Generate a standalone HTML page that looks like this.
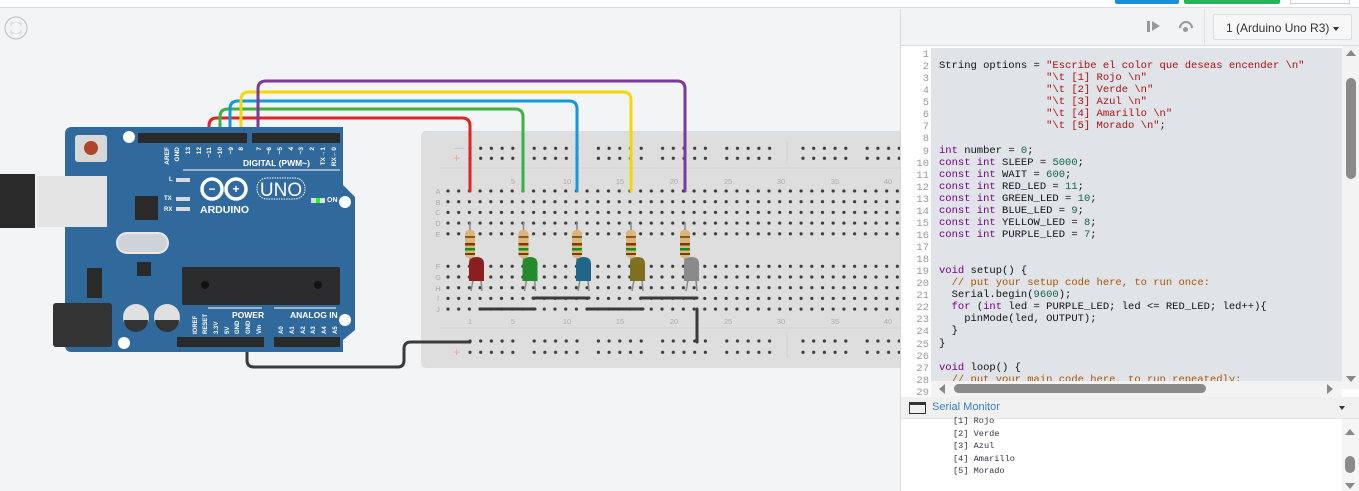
<!DOCTYPE html>
<html><head><meta charset="utf-8"><style>
*{margin:0;padding:0;box-sizing:border-box}
body{width:1359px;height:491px;overflow:hidden;background:#f3f4f6;font-family:"Liberation Sans",sans-serif;position:relative}
#panel{position:absolute;left:900px;top:9px;width:459px;height:482px;background:#fff;border-left:1px solid #d8d8d8}
#hdr{position:absolute;left:0;top:0;width:459px;height:37px;background:#f2f3f5;border-bottom:1px solid #dcdcdc}
#dd{position:absolute;left:312px;top:5px;width:139px;height:26px;background:#f7f7f8;border:1px solid #dcdcdc;border-radius:2px;font-size:12px;color:#333;padding:6px 0 0 12px}
#gut{position:absolute;left:1px;top:37px;width:29px;height:343px;background:#fff}
#code{position:absolute;left:30px;top:39px;width:411px;height:333px;background:#e0e3e8;overflow:hidden}
pre{font-family:"Liberation Mono",monospace;font-size:10.5px;line-height:12.07px;color:#111}
#gut pre{color:#999;text-align:right;padding-right:2px;position:absolute;top:3px;right:0}
#code pre{position:absolute;left:8px;top:0}
.k{color:#708}.s{color:#a11}.n{color:#164}.c{color:#a50}
#vs{position:absolute;left:441px;top:37px;width:18px;height:343px;background:#f3f3f3}
#hs{position:absolute;left:30px;top:372px;width:411px;height:16px;background:#f3f3f3}
#sm{position:absolute;left:0;top:388px;width:459px;height:22px;background:#f0f0f1;border-bottom:1px solid #e4e4e4}
#out{position:absolute;left:52px;top:406px;font-family:"Liberation Mono",monospace;font-size:8.6px;line-height:12.6px;color:#334}
</style></head><body>
<div style="position:absolute;left:0;top:0;width:1359px;height:8px;background:#fff;border-bottom:1px solid #ddd"></div>
<div style="position:absolute;left:1115px;top:0;width:64px;height:4px;background:#1a8fd8;border-radius:0 0 2px 2px"></div>
<div style="position:absolute;left:1184px;top:0;width:96px;height:4px;background:#27b35c;border-radius:0 0 2px 2px"></div>
<div style="position:absolute;left:1290px;top:0;width:60px;height:4px;border:1px solid #ccc;border-top:none"></div>
<svg width="900" height="491" style="position:absolute;left:0;top:0">
<defs>
<pattern id="h" x="442.65" y="185.65" width="10.7" height="10.7" patternUnits="userSpaceOnUse"><circle cx="5.35" cy="5.35" r="1.6" fill="#3a3a3a"/></pattern>
<pattern id="h2" x="442.65" y="260.95" width="10.7" height="10.7" patternUnits="userSpaceOnUse"><circle cx="5.35" cy="5.35" r="1.6" fill="#3a3a3a"/></pattern>
<pattern id="r1" x="464.65" y="143.3" width="64.2" height="10" patternUnits="userSpaceOnUse"><g fill="#3a3a3a"><circle cx="5.35" cy="5" r="1.6"/><circle cx="16.05" cy="5" r="1.6"/><circle cx="26.75" cy="5" r="1.6"/><circle cx="37.45" cy="5" r="1.6"/><circle cx="48.15" cy="5" r="1.6"/></g></pattern>
<pattern id="r2" x="797.65" y="143.3" width="64.2" height="10" patternUnits="userSpaceOnUse"><g fill="#3a3a3a"><circle cx="5.35" cy="5" r="1.6"/><circle cx="16.05" cy="5" r="1.6"/><circle cx="26.75" cy="5" r="1.6"/><circle cx="37.45" cy="5" r="1.6"/><circle cx="48.15" cy="5" r="1.6"/></g></pattern>
<pattern id="r3" x="464.65" y="335.6" width="64.2" height="11.3" patternUnits="userSpaceOnUse"><g fill="#3a3a3a"><circle cx="5.35" cy="5.4" r="1.6"/><circle cx="16.05" cy="5.4" r="1.6"/><circle cx="26.75" cy="5.4" r="1.6"/><circle cx="37.45" cy="5.4" r="1.6"/><circle cx="48.15" cy="5.4" r="1.6"/></g></pattern>
<pattern id="r4" x="797.65" y="335.6" width="64.2" height="11.3" patternUnits="userSpaceOnUse"><g fill="#3a3a3a"><circle cx="5.35" cy="5.4" r="1.6"/><circle cx="16.05" cy="5.4" r="1.6"/><circle cx="26.75" cy="5.4" r="1.6"/><circle cx="37.45" cy="5.4" r="1.6"/><circle cx="48.15" cy="5.4" r="1.6"/></g></pattern>
</defs>
<circle cx="16" cy="28" r="11" fill="none" stroke="#bbb" stroke-width="1"/>
<path d="M11 26v-3h3M18 23h3v3M21 30v3h-3M14 33h-3v-3" fill="none" stroke="#ccc" stroke-width="1"/>
<!-- breadboard -->
<rect x="421" y="131" width="500" height="237" rx="5" fill="#dedede"/>
<line x1="440" y1="168" x2="900" y2="168" stroke="#d2d2d2"/>
<line x1="440" y1="328" x2="900" y2="328" stroke="#d2d2d2"/>
<line x1="787" y1="142" x2="787" y2="164" stroke="#d2d2d2"/>
<line x1="787" y1="332" x2="787" y2="358" stroke="#d2d2d2"/>
<text x="454" y="151" font-size="10" fill="#a8c4e0">—</text>
<text x="453" y="162" font-size="12" fill="#f0a0a0">+</text>
<text x="453" y="356" font-size="12" fill="#f0a0a0">+</text>
<rect x="464" y="143" width="311" height="20" fill="url(#r1)"/>
<rect x="797" y="143" width="103" height="20" fill="url(#r2)"/>
<rect x="464" y="335" width="311" height="23" fill="url(#r3)"/>
<rect x="797" y="335" width="103" height="23" fill="url(#r4)"/>
<rect x="443" y="186" width="457" height="53" fill="url(#h)"/>
<rect x="443" y="261" width="457" height="53" fill="url(#h2)"/>
<g font-size="7.5" fill="#aaa" text-anchor="middle">
<text x="438" y="194">A</text><text x="438" y="205">B</text><text x="438" y="215">C</text><text x="438" y="226">D</text><text x="438" y="237">E</text>
<text x="438" y="269">F</text><text x="438" y="280">G</text><text x="438" y="291">H</text><text x="438" y="301">I</text><text x="438" y="312">J</text>
<text x="513" y="184">5</text><text x="567" y="184">10</text><text x="620" y="184">15</text><text x="674" y="184">20</text><text x="728" y="184">25</text><text x="781" y="184">30</text><text x="835" y="184">35</text><text x="888" y="184">40</text>
<text x="470" y="324">1</text><text x="513" y="324">5</text><text x="567" y="324">10</text><text x="620" y="324">15</text><text x="674" y="324">20</text><text x="728" y="324">25</text><text x="781" y="324">30</text><text x="835" y="324">35</text><text x="888" y="324">40</text>
</g>
<!-- black jumpers -->
<g stroke="#3a3a3a" stroke-width="3" stroke-linecap="round" fill="none">
<line x1="533" y1="298" x2="589" y2="298"/><line x1="641" y1="298" x2="697" y2="298"/>
<line x1="480" y1="309" x2="535" y2="309"/><line x1="587" y1="309" x2="643" y2="309"/>
<line x1="697" y1="309" x2="697" y2="342"/>
<path d="M247 343 V360 Q247 367 254 367 H398 Q404 367 404 360 V349 Q404 342 411 342 H470"/>
</g>
<!-- colored wires -->
<g stroke-width="3" fill="none" stroke-linecap="round">
<path d="M209 140 V126 Q209 118 217 118 H462 Q470 118 470 126 V191" stroke="#e02424"/>
<path d="M220 140 V117 Q220 109 228 109 H515 Q523 109 523 117 V191" stroke="#3cb043"/>
<path d="M230 140 V109 Q230 101 238 101 H569 Q577 101 577 109 V191" stroke="#129ad8"/>
<path d="M241 140 V100 Q241 92 249 92 H623 Q631 92 631 100 V191" stroke="#f5d800"/>
<path d="M258 140 V89 Q258 81 266 81 H677 Q685 81 685 89 V191" stroke="#7b3a9c"/>
</g>
<!-- resistors & LEDs -->
<g id="rl">
<line x1="470" y1="222" x2="470" y2="262" stroke="#888" stroke-width="1.5"/>
<rect x="465" y="230" width="10" height="28" rx="4" fill="#dcb57c"/>
<rect x="465" y="236" width="10" height="2" fill="#8a5a1a"/>
<rect x="465" y="243" width="10" height="2.5" fill="#7a3c0a"/>
<rect x="465" y="248" width="10" height="2.5" fill="#1a8a1a"/>
<rect x="465" y="253" width="10" height="2" fill="#7a3c0a"/>
<line x1="473" y1="280" x2="471" y2="291" stroke="#888" stroke-width="1.5"/><line x1="481" y1="280" x2="482" y2="291" stroke="#888" stroke-width="1.5"/>
</g>
<use href="#rl" x="53.5"/><use href="#rl" x="107"/><use href="#rl" x="161"/><use href="#rl" x="215"/>
<path d="M469 281 V264 Q469 257 476.5 257 Q484 257 484 264 V281Z" fill="#8b1f1f"/>
<path d="M522.5 281 V264 Q522.5 257 530 257 Q537.5 257 537.5 264 V281Z" fill="#248a2c"/>
<path d="M576 281 V264 Q576 257 583.5 257 Q591 257 591 264 V281Z" fill="#1f6689"/>
<path d="M630 281 V264 Q630 257 637.5 257 Q645 257 645 264 V281Z" fill="#7e701f"/>
<path d="M684 281 V264 Q684 257 691.5 257 Q699 257 699 264 V281Z" fill="#8a8a8a"/>
<!-- arduino -->
<path d="M72 127 H343 V185 L355 197 V330 L343 340 V352 H72 Q65 352 65 345 V134 Q65 127 72 127Z" fill="#30699b"/>
<rect x="37" y="176" width="70" height="51" fill="#e4e4e4"/>
<rect x="0" y="174" width="35" height="54" fill="#2a2a2a"/>
<rect x="75" y="135" width="32" height="27" rx="3" fill="#d8d8d8"/>
<circle cx="91" cy="148" r="7" fill="#b04528"/>
<g fill="#fff"><circle cx="129" cy="137" r="6"/><circle cx="345" cy="202" r="6"/><circle cx="345" cy="320" r="6"/><circle cx="124" cy="343" r="6"/></g>
<rect x="138" y="133" width="109" height="10" fill="#2a2a2a"/>
<rect x="252" y="133" width="88" height="10" fill="#2a2a2a"/>
<rect x="177" y="337" width="87" height="10" fill="#2a2a2a"/>
<rect x="274" y="337" width="66" height="10" fill="#2a2a2a"/>
<rect x="182" y="267" width="158" height="38" rx="2" fill="#2c2c2e"/>
<circle cx="205" cy="285" r="4" fill="#111"/><circle cx="318" cy="285" r="4" fill="#111"/>
<rect x="135" y="196" width="23" height="24" fill="#2a2a2a"/>
<rect x="137" y="262" width="14" height="14" fill="#2a2a2a"/>
<rect x="87" y="268" width="15" height="30" fill="#2a2a2a"/>
<rect x="117" y="233" width="51" height="20" rx="10" fill="#cfd2d6" stroke="#e8e8e8" stroke-width="2"/>
<rect x="53" y="303" width="59" height="44" rx="3" fill="#333"/>
<circle cx="136" cy="317" r="13" fill="#e0e0e0"/><path d="M124 320 A12 12 0 0 0 148 320Z" fill="#333"/>
<circle cx="167" cy="317" r="13" fill="#e0e0e0"/><path d="M155 320 A12 12 0 0 0 179 320Z" fill="#333"/>
<line x1="183" y1="170" x2="340" y2="170" stroke="#fff" stroke-width="1"/>
<line x1="208" y1="308" x2="262" y2="308" stroke="#fff"/><line x1="274" y1="308" x2="336" y2="308" stroke="#fff"/>
<g fill="#fff" font-size="8.5" font-weight="bold">
<text x="243" y="166">DIGITAL (PWM~)</text>
<text x="232" y="318">POWER</text><text x="290" y="318">ANALOG IN</text>
<text x="200" y="213" font-size="10.5">ARDUINO</text>
<text x="327" y="202" font-size="7">ON</text>
<text x="164" y="200" font-size="6">TX</text><text x="164" y="211" font-size="6">RX</text><text x="169" y="181" font-size="6">L</text>
</g>
<g fill="#d8d8d8"><rect x="176" y="178" width="14" height="4"/><rect x="176" y="197" width="14" height="4"/><rect x="176" y="207" width="14" height="4"/></g>
<rect x="311" y="198" width="14" height="5" fill="#ddd"/><rect x="316" y="198" width="4" height="5" fill="#2f2"/>
<g fill="none" stroke="#fff" stroke-width="3.5"><circle cx="212" cy="189" r="10"/><circle cx="236" cy="189" r="10"/></g>
<text x="212" y="193" fill="#fff" font-size="12" font-weight="bold" text-anchor="middle">−</text><text x="236" y="193" fill="#fff" font-size="12" font-weight="bold" text-anchor="middle">+</text>
<rect x="257" y="178" width="48" height="21" rx="10" fill="none" stroke="#fff" stroke-dasharray="1.5 1"/>
<text x="281" y="196" fill="#fff" font-size="19" text-anchor="middle">UNO</text>
<g fill="#fff" font-size="6.5" font-weight="bold" text-anchor="end">
<text transform="translate(169,147) rotate(-90)">AREF</text><text transform="translate(179,147) rotate(-90)">GND</text>
<text transform="translate(190,147) rotate(-90)">13</text><text transform="translate(201,147) rotate(-90)">12</text>
<text transform="translate(211,147) rotate(-90)">~11</text><text transform="translate(222,147) rotate(-90)">~10</text>
<text transform="translate(233,147) rotate(-90)">~9</text><text transform="translate(243,147) rotate(-90)">8</text>
<text transform="translate(261,147) rotate(-90)">7</text><text transform="translate(271,147) rotate(-90)">~6</text>
<text transform="translate(282,147) rotate(-90)">~5</text><text transform="translate(293,147) rotate(-90)">4</text>
<text transform="translate(303,147) rotate(-90)">~3</text><text transform="translate(314,147) rotate(-90)">2</text>
<text transform="translate(325,147) rotate(-90)">TX→1</text><text transform="translate(336,147) rotate(-90)">RX←0</text>
</g>
<g fill="#fff" font-size="6" font-weight="bold" text-anchor="start">
<text transform="translate(197,334) rotate(-90)">IOREF</text><text transform="translate(207,334) rotate(-90)">RESET</text>
<text transform="translate(218,334) rotate(-90)">3.3V</text><text transform="translate(229,334) rotate(-90)">5V</text>
<text transform="translate(239,334) rotate(-90)">GND</text><text transform="translate(250,334) rotate(-90)">GND</text>
<text transform="translate(261,334) rotate(-90)">Vin</text>
<text transform="translate(283,334) rotate(-90)">A0</text><text transform="translate(294,334) rotate(-90)">A1</text>
<text transform="translate(305,334) rotate(-90)">A2</text><text transform="translate(315,334) rotate(-90)">A3</text>
<text transform="translate(326,334) rotate(-90)">A4</text><text transform="translate(337,334) rotate(-90)">A5</text>
</g>
</svg>
<div id="panel">
<div id="hdr">
<div style="position:absolute;left:246px;top:12px;width:3px;height:11px;background:#999"></div>
<div style="position:absolute;left:251px;top:12px;width:0;height:0;border-left:8px solid #999;border-top:5.5px solid transparent;border-bottom:5.5px solid transparent"></div>
<div style="position:absolute;left:278px;top:12px;width:14px;height:14px;border:2.5px solid #999;border-radius:50%;border-bottom-color:transparent;border-left-color:transparent;transform:rotate(-45deg)"></div>
<div style="position:absolute;left:282px;top:18px;width:5px;height:5px;background:#999;border-radius:50%"></div>
<div style="position:absolute;left:303px;top:0;width:1px;height:37px;background:#e0e0e0"></div>
<div id="dd">1 (Arduino Uno R3)<span style="position:absolute;right:12px;top:12px;border-top:4px solid #333;border-left:3.5px solid transparent;border-right:3.5px solid transparent"></span></div>
</div>
<div id="gut"><pre>1
2
3
4
5
6
7
8
9
10
11
12
13
14
15
16
17
18
19
20
21
22
23
24
25
26
27
28
29</pre></div>
<div id="code"><pre>&#160;
String options = <span class="s">"Escribe el color que deseas encender \n"</span>
                 <span class="s">"\t [1] Rojo \n"</span>
                 <span class="s">"\t [2] Verde \n"</span>
                 <span class="s">"\t [3] Azul \n"</span>
                 <span class="s">"\t [4] Amarillo \n"</span>
                 <span class="s">"\t [5] Morado \n"</span>;

<span class="k">int</span> number = <span class="n">0</span>;
<span class="k">const int</span> SLEEP = <span class="n">5000</span>;
<span class="k">const int</span> WAIT = <span class="n">600</span>;
<span class="k">const int</span> RED_LED = <span class="n">11</span>;
<span class="k">const int</span> GREEN_LED = <span class="n">10</span>;
<span class="k">const int</span> BLUE_LED = <span class="n">9</span>;
<span class="k">const int</span> YELLOW_LED = <span class="n">8</span>;
<span class="k">const int</span> PURPLE_LED = <span class="n">7</span>;


<span class="k">void</span> setup() {
  <span class="c">// put your setup code here, to run once:</span>
  Serial.begin(<span class="n">9600</span>);
  <span class="k">for</span> (<span class="k">int</span> led = PURPLE_LED; led &lt;= RED_LED; led++){
    pinMode(led, OUTPUT);
  }
}

<span class="k">void</span> loop() {
  <span class="c">// put your main code here, to run repeatedly:</span>
</pre></div>
<div id="vs">
<div style="position:absolute;left:4px;top:4px;border-bottom:6px solid #888;border-left:5px solid transparent;border-right:5px solid transparent"></div>
<div style="position:absolute;left:4px;top:32px;width:10px;height:101px;background:#8a8a8a;border-radius:5px"></div>
<div style="position:absolute;left:4px;top:330px;border-top:6px solid #888;border-left:5px solid transparent;border-right:5px solid transparent"></div>
</div>
<div id="hs">
<div style="position:absolute;left:8px;top:3px;border-right:6px solid #888;border-top:5px solid transparent;border-bottom:5px solid transparent"></div>
<div style="position:absolute;left:23px;top:3px;width:252px;height:9px;background:#8a8a8a;border-radius:5px"></div>
<div style="position:absolute;left:396px;top:3px;border-left:6px solid #888;border-top:5px solid transparent;border-bottom:5px solid transparent"></div>
</div>
<div id="sm">
<div style="position:absolute;left:8px;top:5px;width:17px;height:12px;border:1.5px solid #333;border-top-width:3px"></div>
<div style="position:absolute;left:31px;top:4px;font-size:11px;color:#3a7fc4">Serial Monitor</div>
<div style="position:absolute;left:438px;top:9px;border-top:4px solid #333;border-left:3.5px solid transparent;border-right:3.5px solid transparent"></div>
</div>
<pre id="out">[1] Rojo
[2] Verde
[3] Azul
[4] Amarillo
[5] Morado</pre>
<div style="position:absolute;left:441px;top:410px;width:18px;height:72px;background:#f5f5f5">
<div style="position:absolute;left:3px;top:10px;border-bottom:6px solid #888;border-left:5px solid transparent;border-right:5px solid transparent"></div>
<div style="position:absolute;left:3px;top:37px;width:10px;height:17px;background:#8a8a8a;border-radius:5px"></div>
<div style="position:absolute;left:3px;top:64px;border-top:6px solid #888;border-left:5px solid transparent;border-right:5px solid transparent"></div>
</div>
</div>
</body></html>
